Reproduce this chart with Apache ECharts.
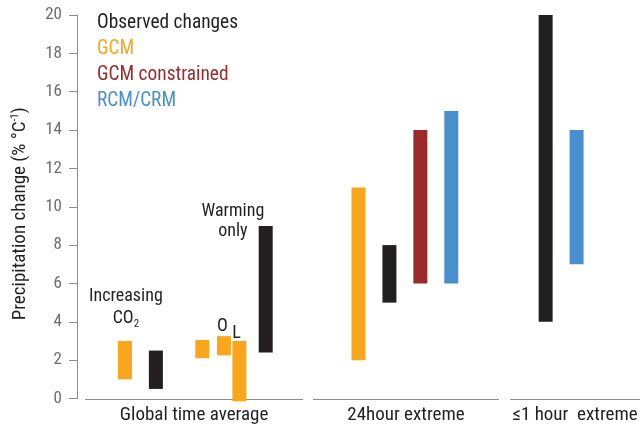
<!DOCTYPE html>
<html><head><meta charset="utf-8">
<script src="https://cdn.jsdelivr.net/npm/echarts@6/dist/echarts.min.js"></script>
<style>html,body{margin:0;padding:0;background:#fff}#c{width:641px;height:428px}</style>
</head><body><div id="c"></div>
<script>
// ---- data (x = slot position along the hidden x axis, [low, high] = range in % per °C) ----
const observed    = [[2.55, 0.5, 2.5], [6.1, 2.4, 9], [10.1, 5, 8], [15.15, 4, 20]];
const gcm         = [[1.55, 1, 3], [4.05, 2.1, 3.05], [4.75, 2.25, 3.25], [5.25, -0.15, 3], [9.1, 2, 11]];
const constrained = [[11.1, 6, 14]];
const rcm         = [[12.1, 6, 15], [16.15, 7, 14]];
const seriesNames = ['Observed changes', 'GCM', 'GCM constrained', 'RCM/CRM'];
const groupNames  = ['Global time average', '24hour extreme', '\u22641 hour  extreme'];
const groupStart  = [0.26, 7.63, 14.0];
const groupEnd    = [7.31, 13.64, 18.2];
const noteTexts   = ['Increasing', '{a|CO}{s|2}', 'Warming', 'only', 'O', 'L'];
const noteX       = [1.58, 1.58, 5.04, 5.04, 4.70, 5.16];
const noteY       = [5.3, 4.15, 9.73, 8.69, 3.76, 3.39];

const colors = ['#231f20', '#f9a61c', '#9b2a2b', '#4a8fcd'];
const FONT = "'Roboto Condensed', 'Liberation Sans', Arial, sans-serif";

const chart = echarts.init(document.getElementById('c'), null, {renderer: 'canvas'});

function barItem(params, api) {
  const x = api.value(0), lo = api.value(1), hi = api.value(2);
  const p1 = api.coord([x, hi]), p2 = api.coord([x, lo]);
  const w = 14;
  return {type: 'rect', shape: {x: p1[0] - w / 2, y: p1[1], width: w, height: p2[1] - p1[1]},
          style: {fill: api.visual('color')}};
}

const barSeries = [observed, gcm, constrained, rcm].map((d, i) => ({
  name: seriesNames[i], type: 'custom', renderItem: barItem,
  itemStyle: {color: colors[i]}, encode: {x: 0, y: [1, 2]}, data: d, z: 3
}));

const groupSeries = {
  type: 'custom', silent: true, z: 2,
  data: groupNames.map((n, i) => [groupStart[i], groupEnd[i]]),
  encode: {x: [0, 1]},
  renderItem: (params, api) => {
    const i = params.dataIndex;
    const a = api.coord([api.value(0), 0]), b = api.coord([api.value(1), 0]);
    const y = Math.round(a[1]) + 0.5;
    return {type: 'group', children: [
      {type: 'line', shape: {x1: a[0], y1: y, x2: b[0], y2: y}, style: {stroke: '#8c8c8c', lineWidth: 1}},
      {type: 'text', x: (a[0] + b[0]) / 2, y: y + 16,
       style: {text: groupNames[i], fill: '#231f20', font: '19px ' + FONT, align: 'center', verticalAlign: 'middle'}}
    ]};
  }
};

const noteSeries = {
  type: 'custom', silent: true, z: 4,
  data: noteTexts.map((t, i) => [noteX[i], noteY[i]]),
  encode: {x: 0, y: 1},
  renderItem: (params, api) => {
    const i = params.dataIndex;
    const p = api.coord([api.value(0), api.value(1)]);
    return {type: 'text', x: p[0], y: p[1],
      style: {text: noteTexts[i], fill: '#231f20', font: '18px ' + FONT, align: 'center', verticalAlign: 'middle',
        rich: {a: {fontSize: 18, fontFamily: FONT, fill: '#231f20'},
               s: {fontSize: 11, fontFamily: FONT, fill: '#231f20', padding: [10, 0, 0, 0]}}}};
  }
};

chart.setOption({
  animation: false,
  backgroundColor: '#fff',
  grid: {left: 77, right: 1, top: 15, bottom: 29.5, containLabel: false},
  legend: {
    orient: 'vertical', left: 87, top: 9, itemWidth: 0, itemHeight: 0, itemGap: 7,
    icon: 'rect', selectedMode: false,
    textStyle: {fontSize: 19.4, fontFamily: FONT},
    data: seriesNames.map((n, i) => ({name: n, textStyle: {color: colors[i]}}))
  },
  xAxis: {type: 'value', min: 0, max: 18.2, show: false},
  yAxis: {
    type: 'value', min: 0, max: 20, interval: 2,
    name: 'Precipitation change (% \u00B0C{sup|-1})', nameLocation: 'middle', nameGap: 47, nameRotate: 90,
    nameTextStyle: {fontSize: 19, fontFamily: FONT, color: '#231f20', padding: [0, 14, 0, 0],
      rich: {sup: {fontSize: 11, fontFamily: FONT, color: '#231f20', padding: [0, 0, 9, 0]}}},
    axisLine: {show: true, lineStyle: {color: '#8c8c8c', width: 1}},
    axisTick: {show: true, inside: false, length: 8, lineStyle: {color: '#8c8c8c'}},
    axisLabel: {fontSize: 17, fontFamily: FONT, color: '#6d6e71', margin: 15},
    splitLine: {show: false}
  },
  series: [groupSeries].concat(barSeries, [noteSeries])
});
</script></body></html>
